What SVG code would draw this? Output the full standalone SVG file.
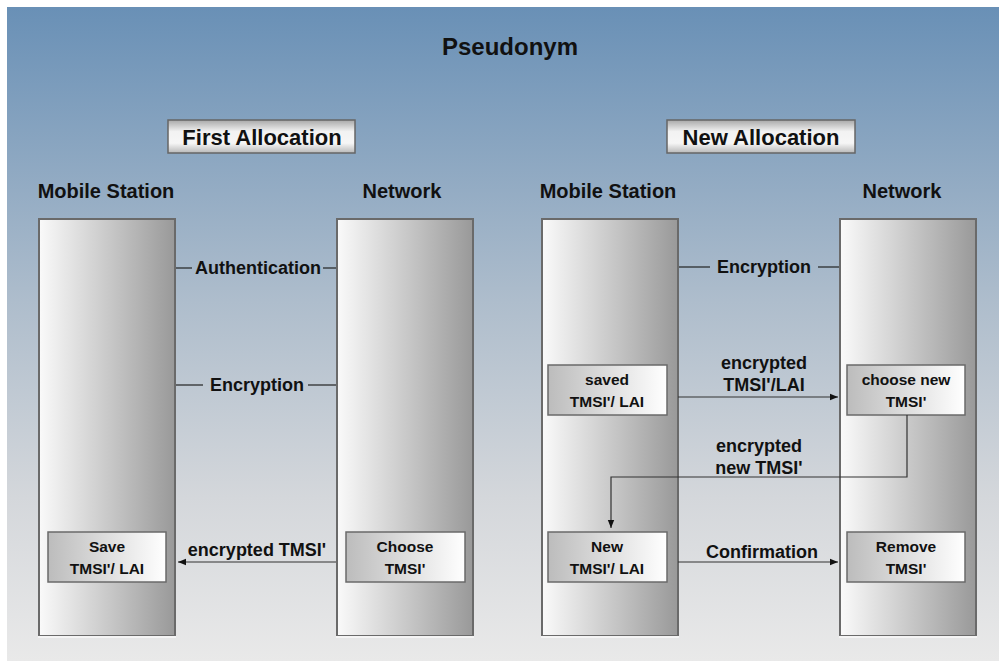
<svg xmlns="http://www.w3.org/2000/svg" width="999" height="661" viewBox="0 0 999 661">
<defs>
  <linearGradient id="bg" x1="0" y1="0" x2="0" y2="1">
    <stop offset="0" stop-color="#6990b6"/>
    <stop offset="0.45" stop-color="#aebdcc"/>
    <stop offset="0.75" stop-color="#d4d7db"/>
    <stop offset="1" stop-color="#e9e9e9"/>
  </linearGradient>
  <linearGradient id="col" x1="0" y1="0" x2="1" y2="0">
    <stop offset="0" stop-color="#fafafa"/>
    <stop offset="1" stop-color="#999999"/>
  </linearGradient>
  <linearGradient id="box" x1="0" y1="0" x2="1" y2="0">
    <stop offset="0" stop-color="#bcbcbc"/>
    <stop offset="1" stop-color="#ffffff"/>
  </linearGradient>
  <linearGradient id="tab" x1="0" y1="0" x2="0" y2="1">
    <stop offset="0" stop-color="#a8a8a8"/>
    <stop offset="0.35" stop-color="#f2f2f2"/>
    <stop offset="0.7" stop-color="#f6f6f6"/>
    <stop offset="1" stop-color="#b8b8b8"/>
  </linearGradient>
  <marker id="ah" viewBox="0 0 10 10" refX="10" refY="5" markerWidth="8" markerHeight="8" markerUnits="userSpaceOnUse" orient="auto">
    <path d="M0,1 L10,5 L0,9 z" fill="#111"/>
  </marker>
</defs>
<style>
  text { font-family: "Liberation Sans", Arial, sans-serif; font-weight: bold; fill: #111; text-anchor: middle; }
  .title { font-size: 24px; }
  .tabt { font-size: 22px; }
  .head { font-size: 20px; }
  .lbl { font-size: 18px; }
  .bt { font-size: 15.5px; }
  .col { fill: url(#col); stroke: #6a6a6a; stroke-width: 2; }
  .colb { stroke: #f4f4f4; stroke-width: 2; }
  .box { fill: url(#box); stroke: #6a6a6a; stroke-width: 1.5; }
  .tab { fill: url(#tab); stroke: #666; stroke-width: 1.5; }
  .ln { stroke: #222; stroke-width: 1.2; fill: none; }
  .arr { stroke: #333; stroke-width: 1.2; fill: none; marker-end: url(#ah); }
</style>
<rect x="7" y="7" width="992" height="654" fill="url(#bg)"/>
<text class="title" x="510" y="55">Pseudonym</text>

<g id="tab-first">
  <rect class="tab" x="168" y="120" width="187" height="33"/>
  <text class="tabt" x="262" y="145">First Allocation</text>
</g>
<g id="tab-new">
  <rect class="tab" x="667" y="120" width="188" height="33"/>
  <text class="tabt" x="761" y="145">New Allocation</text>
</g>

<g id="ms1">
  <text class="head" x="106" y="198">Mobile Station</text>
  <rect class="col" x="39" y="219" width="136" height="417"/>
  <line class="colb" x1="38" y1="637" x2="176" y2="637"/>
</g>
<g id="nw1">
  <text class="head" x="402" y="198">Network</text>
  <rect class="col" x="337" y="219" width="136" height="417"/>
  <line class="colb" x1="336" y1="637" x2="474" y2="637"/>
</g>
<g id="ms2">
  <text class="head" x="608" y="198">Mobile Station</text>
  <rect class="col" x="542" y="219" width="136" height="417"/>
  <line class="colb" x1="541" y1="637" x2="679" y2="637"/>
</g>
<g id="nw2">
  <text class="head" x="902" y="198">Network</text>
  <rect class="col" x="840" y="219" width="136" height="417"/>
  <line class="colb" x1="839" y1="637" x2="977" y2="637"/>
</g>

<g id="save">
  <rect class="box" x="48" y="532" width="118" height="50"/>
  <text class="bt" x="107" y="552">Save</text>
  <text class="bt" x="107" y="574">TMSI'/ LAI</text>
</g>
<g id="choose">
  <rect class="box" x="346" y="532" width="119" height="50"/>
  <text class="bt" x="405" y="552">Choose</text>
  <text class="bt" x="405" y="574">TMSI'</text>
</g>
<g id="saved">
  <rect class="box" x="548" y="365" width="119" height="50"/>
  <text class="bt" x="607" y="385">saved</text>
  <text class="bt" x="607" y="407">TMSI'/ LAI</text>
</g>
<g id="choosenew">
  <rect class="box" x="847" y="365" width="118" height="50"/>
  <text class="bt" x="906" y="385">choose new</text>
  <text class="bt" x="906" y="407">TMSI'</text>
</g>
<g id="new">
  <rect class="box" x="548" y="532" width="119" height="50"/>
  <text class="bt" x="607" y="552">New</text>
  <text class="bt" x="607" y="574">TMSI'/ LAI</text>
</g>
<g id="remove">
  <rect class="box" x="847" y="532" width="118" height="50"/>
  <text class="bt" x="906" y="552">Remove</text>
  <text class="bt" x="906" y="574">TMSI'</text>
</g>

<g id="connectors">
  <line class="ln" x1="176" y1="268" x2="192" y2="268"/>
  <line class="ln" x1="323" y1="268" x2="336" y2="268"/>
  <text class="lbl" x="258" y="274">Authentication</text>

  <line class="ln" x1="176" y1="385" x2="203" y2="385"/>
  <line class="ln" x1="308" y1="385" x2="336" y2="385"/>
  <text class="lbl" x="257" y="391">Encryption</text>

  <line class="arr" x1="336" y1="562" x2="178" y2="562"/>
  <text class="lbl" x="257" y="556">encrypted TMSI'</text>

  <line class="ln" x1="679" y1="267" x2="710" y2="267"/>
  <line class="ln" x1="818" y1="267" x2="839" y2="267"/>
  <text class="lbl" x="764" y="273">Encryption</text>

  <line class="arr" x1="678" y1="397" x2="838" y2="397"/>
  <text class="lbl" x="764" y="369">encrypted</text>
  <text class="lbl" x="764" y="391">TMSI'/LAI</text>

  <polyline class="arr" points="907,415 907,477 611,477 611,528"/>
  <text class="lbl" x="759" y="452">encrypted</text>
  <text class="lbl" x="759" y="474">new TMSI'</text>

  <line class="arr" x1="678" y1="562" x2="838" y2="562"/>
  <text class="lbl" x="762" y="558">Confirmation</text>
</g>
</svg>
